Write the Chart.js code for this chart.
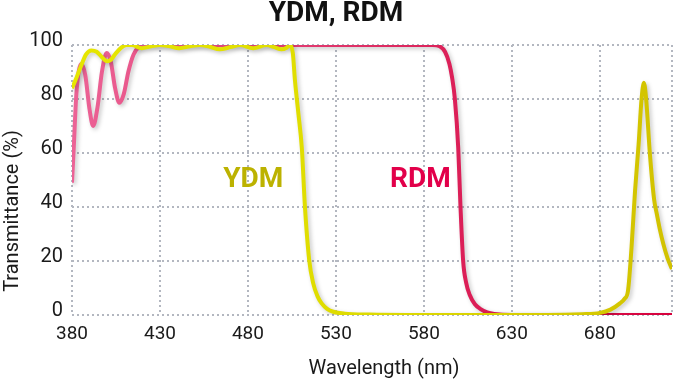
<!DOCTYPE html>
<html>
<head>
<meta charset="utf-8">
<script src="https://cdn.jsdelivr.net/npm/chart.js@4/dist/chart.umd.min.js"></script>
<style>
  html, body { margin: 0; padding: 0; background: #ffffff; }
  #wrap { width: 698px; height: 382px; }
</style>
</head>
<body>
<div id="wrap"><canvas id="c" width="698" height="382"></canvas></div>
<script>
// ---- Data ----
const chartTitle = 'YDM, RDM';
const xAxisTitle = 'Wavelength (nm)';
const yAxisTitle = 'Transmittance (%)';
const xTickValues = [380, 430, 480, 530, 580, 630, 680];
const yTickValues = [0, 20, 40, 60, 80, 100];
const xMin = 380, xMax = 721;

const ydmWavelength = [380, 382, 385, 388, 391, 394, 397, 400, 402, 405, 408, 411, 414, 419.6, 425, 430, 435, 441, 447, 452.7, 458, 464, 470, 475.5, 483, 490.6, 495, 499, 502, 503.9, 505.5, 506.7, 508.6, 510.6, 512.4, 514.8, 517.1, 519.5, 521.9, 525, 528.5, 535, 549, 600, 650, 670, 680, 686, 691.4, 694, 696, 698, 700, 702, 703.7, 705, 706.3, 708.4, 710.8, 712.5, 714, 716, 718.5, 721];
const ydmTransmittance = [84, 87, 92, 96.5, 98, 97.5, 95.5, 94, 94.5, 97, 99, 100, 100, 98.8, 99.5, 100, 99.6, 98.8, 99.5, 100, 99.4, 98.4, 99.2, 100, 98.8, 100, 99.2, 98.4, 99, 100, 97, 87, 75, 62, 40, 20.4, 11.7, 7, 4.3, 2.3, 1.2, 0.5, 0.2, 0, 0, 0.3, 0.8, 2, 4.3, 6, 9, 25, 46, 63, 80, 86, 80, 60, 43, 37, 32, 26.5, 21, 17];

const rdmWavelength = [380, 381, 382.5, 385.3, 387.5, 390, 392, 394.5, 397, 399.7, 402, 404.5, 406.9, 409.5, 412, 415, 418.6, 422, 450, 500, 550, 585, 589, 592, 594.5, 596, 597.6, 599.5, 600.8, 602.3, 604, 606, 609, 612, 616, 620, 630, 721];
const rdmTransmittance = [49, 62, 82, 93, 89, 76, 70, 77, 90, 97, 94, 84, 78.6, 82, 90, 96.5, 99.5, 100, 100, 100, 100, 100, 99.5, 97.5, 93, 88, 80, 62, 40, 20, 12, 7.5, 4, 2.3, 1, 0.4, 0, 0];

const seriesNames = ['YDM', 'RDM'];
const seriesLabelAnchorX = [483, 578];
const seriesLabelAnchorY = [50, 50];

// ---- Styling ----
const gradientStops = {
  YDM: ['#e6e600', '#dedb00', '#d2c200'],
  RDM: ['#ec6396', '#de2c63', '#d6003c']
};
const labelColors = { YDM: '#bcb200', RDM: '#e2004a' };

function lineGradient(name) {
  return function (context) {
    const chart = context.chart;
    const area = chart.chartArea;
    const stops = gradientStops[name];
    if (!area) return stops[1];
    const g = chart.ctx.createLinearGradient(area.left, 0, area.right, 0);
    g.addColorStop(0, stops[0]);
    g.addColorStop(0.5, stops[1]);
    g.addColorStop(1, stops[2]);
    return g;
  };
}

function toPoints(xs, ys) {
  return xs.map((x, i) => ({ x: x, y: ys[i] }));
}

const shadowPlugin = {
  id: 'lineShadow',
  beforeDatasetsDraw(chart) {
    const ctx = chart.ctx;
    ctx.save();
    ctx.shadowColor = 'rgba(0,0,0,0.22)';
    ctx.shadowBlur = 4;
    ctx.shadowOffsetX = 2;
    ctx.shadowOffsetY = 2;
  },
  afterDatasetsDraw(chart) {
    chart.ctx.restore();
  }
};

const textPlugin = {
  id: 'extraText',
  afterDraw(chart) {
    const ctx = chart.ctx;
    const xs = chart.scales.x, ys = chart.scales.y;
    ctx.save();
    // series labels
    ctx.font = 'bold 28px Roboto';
    ctx.textAlign = 'center';
    ctx.textBaseline = 'middle';
    seriesNames.forEach((n, i) => {
      ctx.fillStyle = labelColors[n];
      ctx.fillText(n, xs.getPixelForValue(seriesLabelAnchorX[i]), ys.getPixelForValue(seriesLabelAnchorY[i]));
    });
    // axis titles
    ctx.fillStyle = '#1a1a1a';
    ctx.font = '20px Roboto';
    ctx.fillText(xAxisTitle, 384, 369);
    ctx.translate(13, 211);
    ctx.rotate(-Math.PI / 2);
    ctx.fillText(yAxisTitle, 0, 0);
    ctx.restore();
  }
};

const gridStyle = {
  color: '#b3b7c0',
  lineWidth: 2,
  drawTicks: false
};

new Chart(document.getElementById('c'), {
  type: 'line',
  data: {
    datasets: [
      {
        label: seriesNames[0],
        data: toPoints(ydmWavelength, ydmTransmittance),
        borderColor: lineGradient('YDM'),
        borderWidth: 4,
        pointRadius: 0,
        fill: false,
        tension: 0.4,
        cubicInterpolationMode: 'monotone'
      },
      {
        label: seriesNames[1],
        data: toPoints(rdmWavelength, rdmTransmittance),
        borderColor: lineGradient('RDM'),
        borderWidth: 4,
        pointRadius: 0,
        fill: false,
        tension: 0.4,
        cubicInterpolationMode: 'monotone'
      }
    ]
  },
  options: {
    responsive: false,
    devicePixelRatio: 1,
    animation: false,
    layout: { padding: { left: 0, right: 26, top: 0, bottom: 0 } },
    plugins: {
      legend: { display: false },
      tooltip: { enabled: false },
      title: {
        display: true,
        text: chartTitle,
        color: '#111111',
        font: { family: 'Roboto', weight: 'bold', size: 28, lineHeight: 1.0 },
        padding: { top: 0, bottom: 17 }
      }
    },
    scales: {
      x: {
        type: 'linear',
        min: xMin,
        max: xMax,
        afterFit(scale) { scale.height = 67; },
        afterBuildTicks(scale) {
          scale.ticks = xTickValues.concat([xMax]).map(v => ({ value: v }));
        },
        grid: gridStyle,
        border: { display: false, dash: [2, 3] },
        ticks: {
          padding: 8,
          color: '#1a1a1a',
          font: { family: 'Roboto', size: 19 },
          maxRotation: 0,
          autoSkip: false,
          callback: (v) => xTickValues.includes(v) ? String(v) : ''
        }
      },
      y: {
        min: 0,
        max: 100,
        afterFit(scale) { scale.width = 72; },
        afterBuildTicks(scale) {
          scale.ticks = yTickValues.map(v => ({ value: v }));
        },
        grid: gridStyle,
        border: { display: false, dash: [2, 3] },
        ticks: {
          padding: 9,
          color: '#1a1a1a',
          labelOffset: -4,
          font: { family: 'Roboto', size: 20 },
          callback: (v) => String(v)
        }
      }
    }
  },
  plugins: [shadowPlugin, textPlugin]
});
</script>
</body>
</html>
